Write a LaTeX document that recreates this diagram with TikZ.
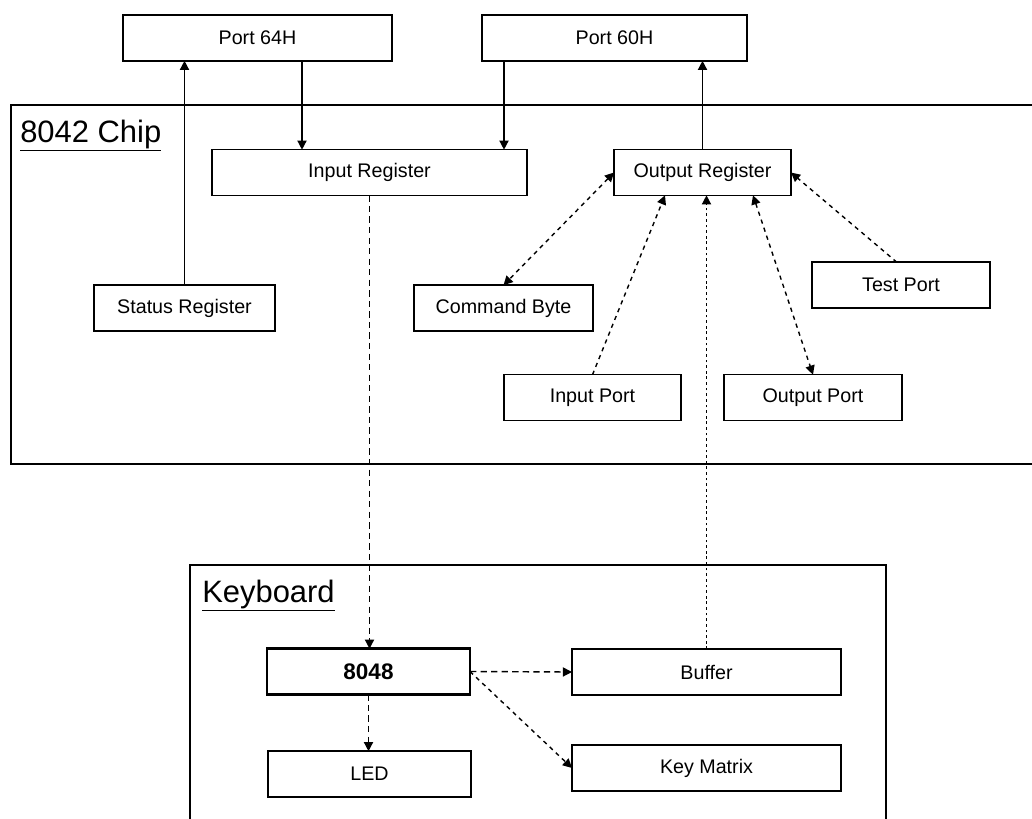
\documentclass[tikz,border=0pt]{standalone}
\usepackage{fontspec}
\setmainfont{Liberation Sans}
\usetikzlibrary{arrows.meta, positioning}

\begin{document}
\begin{tikzpicture}[
    x=0.025cm, y=-0.025cm,
    block/.style={
        rectangle, draw=black, line width=1.1pt, fill=white,
        minimum width=#1*0.025cm, minimum height=1.14cm,
        inner sep=0pt, outer sep=0pt, font=\fontsize{14}{16}\selectfont,
    },
    block/.default=180,
    frame/.style={draw=black, line width=1.1pt},
    title/.style={anchor=base west, inner sep=0pt, font=\fontsize{22}{24}\selectfont},
    link/.style={line width=1pt, -{Triangle[length=6.5pt, width=6.5pt]}},
    both/.style={line width=1pt, {Triangle[length=6.5pt, width=6.5pt]}-{Triangle[length=6.5pt, width=6.5pt]}},
    longdash/.style={dash pattern=on 4.5pt off 3pt},
    shortdash/.style={dash pattern=on 3pt off 3pt},
    dotdash/.style={dash pattern=on 2pt off 2pt},
]

% --- Page ---
\fill[white] (0,0) rectangle (1032,818);
\clip (0,0) rectangle (1032,818);

% --- Outer frames ---
\draw[frame] (11,105) rectangle (1050,464);
\draw[frame] (190,565) rectangle (886,840);
\node[title] (chiptitle) at (20,142) {\underline{8042 Chip}};
\node[title] (kbdtitle) at (202,602) {\underline{Keyboard}};

% --- Ports ---
\node[block=269] (port64) at (257.5,38) {Port 64H};
\node[block=265] (port60) at (614.5,38) {Port 60H};

% --- 8042 chip ---
\node[block=315] (inreg) at (369.5,172.5) {Input Register};
\node[block=177] (outreg) at (702.5,172.5) {Output Register};
\node[block=181] (status) at (184.5,308) {Status Register};
\node[block=179] (cmdbyte) at (503.5,308) {Command Byte};
\node[block=178] (testport) at (901,285) {Test Port};
\node[block=177] (inport) at (592.5,397.5) {Input Port};
\node[block=178] (outport) at (813,397.5) {Output Port};

% --- Keyboard ---
\node[block=203, line width=2pt, font=\fontsize{16}{18}\selectfont\bfseries] (kbc) at (368.5,671.5) {8048};
\node[block=203] (led) at (369.5,774) {LED};
\node[block=269] (buffer) at (706.5,672) {Buffer};
\node[block=269] (keymatrix) at (706.5,768) {Key Matrix};

% --- Solid links ---
\draw[link] (status.north) -- (status.north |- port64.south);
\draw[link] ([xshift=44.5*0.025cm]port64.south) -- ([xshift=44.5*0.025cm]port64.south |- inreg.north);
\draw[link] ([xshift=-110.5*0.025cm]port60.south) -- ([xshift=-110.5*0.025cm]port60.south |- inreg.north);
\draw[link] (outreg.north) -- (outreg.north |- port60.south);

% --- Dashed links in the chip ---
\draw[both, shortdash] (outreg.west) -- (cmdbyte.north);
\draw[link, shortdash] (inport.north) -- ([xshift=-37.5*0.025cm]outreg.south);
\draw[both, shortdash] ([xshift=50.5*0.025cm]outreg.south) -- (outport.north);
\draw[link, shortdash] ([xshift=-3pt]testport.north) -- (outreg.east);

% --- Between chip and keyboard ---
\draw[link, longdash] (inreg.south) -- (inreg.south |- kbc.north);
\draw[link, dotdash] (buffer.north) -- (buffer.north |- outreg.south);

% --- Inside the keyboard ---
\draw[link, longdash] (kbc.south) -- (kbc.south |- led.north);
\draw[link, longdash] (kbc.east) -- (buffer.west);
\draw[link, shortdash] (kbc.east) -- (keymatrix.west);

\end{tikzpicture}
\end{document}
